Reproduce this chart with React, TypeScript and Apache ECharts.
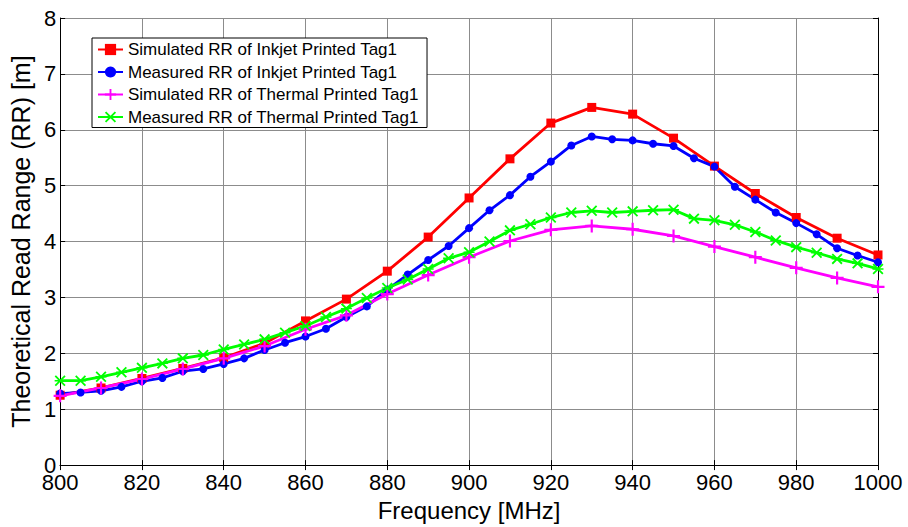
import React, { useEffect, useRef } from "react";
import * as echarts from "echarts";

const freq5: number[] = [];
for (let f = 800; f <= 1000; f += 5) freq5.push(f);
const freq10: number[] = [];
for (let f = 800; f <= 1000; f += 10) freq10.push(f);

const simInkjet = [1.25, 1.38, 1.55, 1.73, 1.92, 2.18, 2.58, 2.97, 3.47, 4.08, 4.78, 5.48, 6.12, 6.4, 6.28, 5.85, 5.35, 4.86, 4.43, 4.06, 3.76];
const measInkjet = [1.28, 1.3, 1.33, 1.4, 1.5, 1.56, 1.68, 1.72, 1.81, 1.91, 2.06, 2.19, 2.3, 2.44, 2.65, 2.84, 3.14, 3.41, 3.67, 3.92, 4.24, 4.56, 4.83, 5.16, 5.43, 5.72, 5.88, 5.83, 5.81, 5.75, 5.71, 5.49, 5.34, 4.98, 4.75, 4.52, 4.33, 4.13, 3.88, 3.75, 3.63];
const simThermal = [1.24, 1.38, 1.54, 1.72, 1.91, 2.13, 2.43, 2.68, 3.06, 3.4, 3.72, 4.01, 4.21, 4.28, 4.22, 4.1, 3.91, 3.72, 3.53, 3.35, 3.19];
const measThermal = [1.51, 1.51, 1.58, 1.66, 1.74, 1.82, 1.91, 1.97, 2.07, 2.16, 2.25, 2.37, 2.49, 2.65, 2.8, 2.99, 3.17, 3.32, 3.51, 3.7, 3.81, 4.0, 4.2, 4.31, 4.43, 4.52, 4.55, 4.52, 4.54, 4.56, 4.57, 4.41, 4.38, 4.3, 4.17, 4.02, 3.9, 3.8, 3.69, 3.61, 3.51];

const seriesNames = [
  "Simulated RR of Inkjet Printed Tag1",
  "Measured RR of Inkjet Printed Tag1",
  "Simulated RR of Thermal Printed Tag1",
  "Measured RR of Thermal Printed Tag1",
];

const FONT = "Liberation Sans, Arial, sans-serif";

const plusPath = "path://M5,0h2v12h-2zM0,5h12v2h-12z";
const starPath =
  "path://M0,1.4L1.4,0L12,10.6L10.6,12ZM10.6,0L12,1.4L1.4,12L0,10.6ZM0,5.2h12v1.6h-12z";

function pair(xs: number[], ys: number[]) {
  return xs.map((x, i) => [x, ys[i]]);
}

export default function App() {
  const ref = useRef<HTMLDivElement>(null);
  useEffect(() => {
    if (!ref.current) return;
    const chart = echarts.init(ref.current, undefined, { renderer: "svg" });
    const axisCommon = {
      type: "value" as const,
      axisLine: { show: true, lineStyle: { color: "#000", width: 1 } },
      axisTick: { show: true, inside: true, length: 5, lineStyle: { color: "#000" } },
    };
    chart.setOption({
      animation: false,
      backgroundColor: "#fff",
      grid: { left: 57, right: 30, top: 18, bottom: 59 },
      legend: {
        orient: "vertical",
        left: 92,
        top: 38,
        itemWidth: 25,
        itemHeight: 14,
        itemGap: 5.5,
        padding: [3, 8, 2, 5],
        borderColor: "#000",
        borderWidth: 1,
        backgroundColor: "#fff",
        textStyle: { fontSize: 17, fontFamily: FONT, color: "#000", lineHeight: 17 },
        data: seriesNames,
      },
      xAxis: [
        {
          ...axisCommon,
          min: 800,
          max: 1000,
          interval: 20,
          position: "bottom",
          name: "Frequency [MHz]",
          nameLocation: "middle",
          nameGap: 32,
          nameTextStyle: { fontSize: 24, fontFamily: FONT, color: "#000" },
          axisLabel: {
            fontSize: 22,
            fontFamily: FONT,
            color: "#000",
            margin: 6,
            formatter: (v: number) => String(v),
          },
          splitLine: { show: true, lineStyle: { color: "#8c8c8c", width: 1 } },
        },
        {
          ...axisCommon,
          min: 800,
          max: 1000,
          interval: 20,
          position: "top",
          axisLabel: { show: false },
          splitLine: { show: false },
        },
      ],
      yAxis: [
        {
          ...axisCommon,
          min: 0,
          max: 8,
          interval: 1,
          position: "left",
          name: "Theoretical Read Range (RR) [m]",
          nameLocation: "middle",
          nameGap: 22,
          nameTextStyle: { fontSize: 25, fontFamily: FONT, color: "#000" },
          axisLabel: { fontSize: 22, fontFamily: FONT, color: "#000", margin: 4 },
          splitLine: { show: true, lineStyle: { color: "#8c8c8c", width: 1 } },
        },
        {
          ...axisCommon,
          min: 0,
          max: 8,
          interval: 1,
          position: "right",
          axisLabel: { show: false },
          splitLine: { show: false },
        },
      ],
      series: [
        {
          name: seriesNames[0],
          type: "line",
          data: pair(freq10, simInkjet),
          color: "#ff0000",
          symbol: "rect",
          symbolSize: 9,
          showAllSymbol: true,
          lineStyle: { width: 2.8, color: "#ff0000" },
          itemStyle: { color: "#ff0000", borderWidth: 0 },
        },
        {
          name: seriesNames[1],
          type: "line",
          data: pair(freq5, measInkjet),
          color: "#0000ff",
          symbol: "circle",
          symbolSize: 8,
          showAllSymbol: true,
          lineStyle: { width: 2.8, color: "#0000ff" },
          itemStyle: { color: "#0000ff", borderWidth: 0 },
        },
        {
          name: seriesNames[2],
          type: "line",
          data: pair(freq10, simThermal),
          color: "#ff00ff",
          symbol: plusPath,
          symbolSize: 13,
          showAllSymbol: true,
          lineStyle: { width: 2.8, color: "#ff00ff" },
          itemStyle: { color: "#ff00ff", borderWidth: 0 },
        },
        {
          name: seriesNames[3],
          type: "line",
          data: pair(freq5, measThermal),
          color: "#00ff00",
          symbol: starPath,
          symbolSize: 11,
          showAllSymbol: true,
          lineStyle: { width: 2.8, color: "#00ff00" },
          itemStyle: { color: "#00ff00", borderWidth: 0 },
        },
      ],
    });
    return () => chart.dispose();
  }, []);
  return (
    <div
      ref={ref}
      style={{ position: "fixed", left: 0, top: 0, width: 908, height: 527 }}
    />
  );
}
